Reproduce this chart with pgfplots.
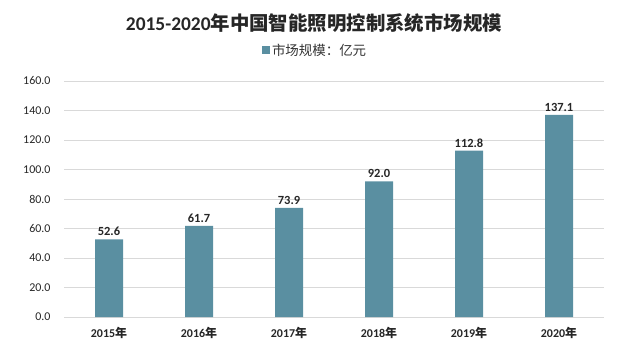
\documentclass[border=0pt]{standalone}
\usepackage{pgfplots}
\pgfplotsset{compat=1.18}
\usepackage{fontspec}
\setmainfont{Carlito}
\newfontfamily\cjk{Noto Sans CJK SC}
\definecolor{barc}{HTML}{5A8FA1}
\definecolor{gridc}{HTML}{D9D9D9}
\begin{document}
\begin{tikzpicture}[x=1bp,y=1bp]
\path[use as bounding box] (0,0) rectangle (631,356);
\begin{axis}[
  at={(64bp,39bp)}, anchor=south west,
  scale only axis, width=540bp, height=236bp,
  xmin=-0.5, xmax=5.5, ymin=0, ymax=160,
  ytick={0,20,...,160},
  xtick={0,...,5},
  xticklabels={2015{\cjk 年},2016{\cjk 年},2017{\cjk 年},2018{\cjk 年},2019{\cjk 年},2020{\cjk 年}},
  xticklabel style={font=\fontsize{12}{14}\selectfont\bfseries, color=black!85, yshift=-7bp},
  yticklabel style={font=\fontsize{12}{14}\selectfont, color=black!85, xshift=-10bp},
  /pgf/number format/.cd, fixed, fixed zerofill, precision=1, assume math mode=true,
  /pgfplots/.cd,
  major tick length=0pt,
  axis y line*=left, axis x line*=bottom,
  y axis line style={draw=none},
  x axis line style={gridc, line width=0.8pt},
  ymajorgrids, grid style={gridc, line width=0.8pt},
  ybar, bar width=28bp,
  nodes near coords,
  every node near coord/.append style={font=\fontsize{12.5}{14}\selectfont\bfseries, color=black!85, /pgf/number format/fixed zerofill, /pgf/number format/precision=1},
  legend style={at={(0.465,1.13)}, anchor=center, draw=none, font=\fontsize{13.5}{15}\selectfont\cjk, text=black!80},
  legend image code/.code={\fill[barc] (0bp,-4bp) rectangle (8bp,4bp);},
]
\addplot[fill=barc, draw=none] coordinates {(0,52.6) (1,61.7) (2,73.9) (3,92.0) (4,112.8) (5,137.1)};
\addlegendentry{市场规模：亿元}
\end{axis}
\node[font=\fontsize{19.5}{22}\selectfont\bfseries, text=black!85] at (314,333) {2015-2020{\cjk 年中国智能照明控制系统市场规模}};
\end{tikzpicture}
\end{document}
